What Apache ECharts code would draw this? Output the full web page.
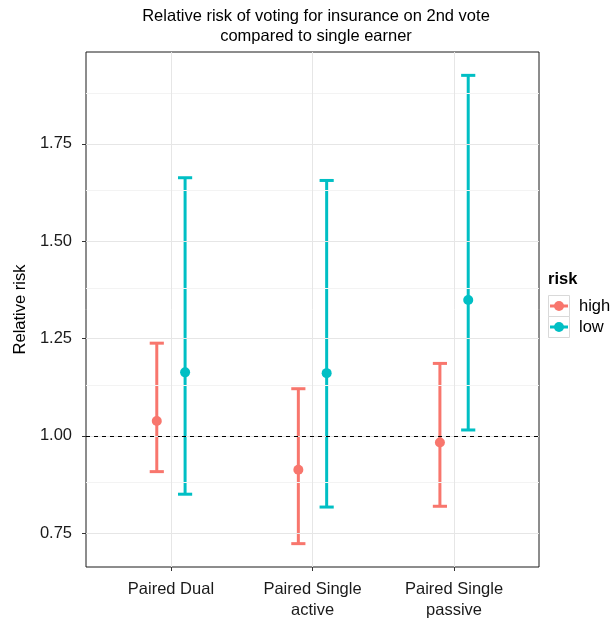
<!DOCTYPE html>
<html>
<head>
<meta charset="utf-8">
<script src="https://cdn.jsdelivr.net/npm/echarts@6/dist/echarts.min.js"></script>
<style>html,body{margin:0;padding:0;background:#fff}#c{width:610px;height:621px}</style>
</head>
<body>
<div id="c"></div>
<script>
// ---- data ----
const categories = ['Paired Dual', 'Paired Single\nactive', 'Paired Single\npassive'];
const riskLevels = ['high', 'low'];
const highPoint = [1.038, 0.913, 0.983];
const highLower = [0.908, 0.723, 0.819];
const highUpper = [1.238, 1.121, 1.186];
const lowPoint  = [1.163, 1.161, 1.349];
const lowLower  = [0.850, 0.817, 1.015];
const lowUpper  = [1.663, 1.656, 1.926];
const yTicks = [0.75, 1.00, 1.25, 1.50, 1.75];
const yMinorTicks = [0.875, 1.125, 1.375, 1.625, 1.875];
const refValue = 1.0;

const colors = {high: '#F8766D', low: '#00BFC4'};
const FONT = 'Liberation Sans, Arial, Helvetica, sans-serif';
const FS = 16.5;
const dodge = 0.1;

function build(lo, pt, hi, off) {
  return categories.map((c, i) => [i + 1 + off, lo[i], pt[i], hi[i]]);
}

function renderErr(color) {
  return function (params, api) {
    const x = api.value(0);
    const lo = api.coord([x, api.value(1)]);
    const pt = api.coord([x, api.value(2)]);
    const hi = api.coord([x, api.value(3)]);
    const half = api.size([0.05, 0])[0];
    const st = {stroke: color, lineWidth: 3};
    return {
      type: 'group',
      children: [
        {type: 'line', shape: {x1: lo[0], y1: lo[1], x2: hi[0], y2: hi[1]}, style: st},
        {type: 'line', shape: {x1: lo[0] - half, y1: lo[1], x2: lo[0] + half, y2: lo[1]}, style: st},
        {type: 'line', shape: {x1: hi[0] - half, y1: hi[1], x2: hi[0] + half, y2: hi[1]}, style: st},
        {type: 'circle', shape: {cx: pt[0], cy: pt[1], r: 5}, style: {fill: color}}
      ]
    };
  };
}

const chart = echarts.init(document.getElementById('c'), null, {renderer: 'canvas'});

const gridLines = [];
yMinorTicks.forEach(v => gridLines.push({yAxis: v, lineStyle: {color: '#f3f3f3', width: 1, type: 'solid'}}));
yTicks.forEach(v => gridLines.push({yAxis: v, lineStyle: {color: '#e6e6e6', width: 1, type: 'solid'}}));
categories.forEach((c, i) => gridLines.push({xAxis: i + 1, lineStyle: {color: '#e6e6e6', width: 1, type: 'solid'}}));

// legend graphic
const lgX = 548, lgY = 295;
const legendEls = [
  {type: 'text', x: lgX, y: 279.5, style: {text: 'risk', font: 'bold ' + FS + 'px ' + FONT, fill: '#000', verticalAlign: 'middle'}}
];
riskLevels.forEach((r, i) => {
  const y0 = lgY + i * 21;
  legendEls.push(
    {type: 'rect', shape: {x: lgX + 0.5, y: y0 + 0.5, width: 21, height: 21}, style: {fill: '#fff', stroke: '#d9d9d9', lineWidth: 1}},
    {type: 'line', shape: {x1: lgX + 2, y1: y0 + 11, x2: lgX + 20, y2: y0 + 11}, style: {stroke: colors[r], lineWidth: 3}},
    {type: 'circle', shape: {cx: lgX + 11, cy: y0 + 11, r: 5}, style: {fill: colors[r]}},
    {type: 'text', x: lgX + 31, y: y0 + 11.5, style: {text: r, font: FS + 'px ' + FONT, fill: '#000', verticalAlign: 'middle'}}
  );
});

chart.setOption({
  animation: false,
  backgroundColor: '#fff',
  title: {
    text: 'Relative risk of voting for insurance on 2nd vote\ncompared to single earner',
    left: 316, top: 7, padding: 0, textAlign: 'center',
    textStyle: {fontFamily: FONT, fontSize: FS, fontWeight: 'normal', color: '#000', lineHeight: 19.5}
  },
  grid: {left: 86, right: 71, top: 52, bottom: 53, show: true, borderColor: '#1a1a1a', borderWidth: 1, backgroundColor: 'transparent'},
  xAxis: {
    type: 'value', min: 0.4, max: 3.6,
    axisLine: {show: false},
    splitLine: {show: false},
    axisTick: {show: true, length: 4, customValues: [1, 2, 3], lineStyle: {color: '#333'}},
    axisLabel: {
      customValues: [1, 2, 3],
      formatter: v => categories[Math.round(v) - 1] || '',
      fontFamily: FONT, fontSize: FS, color: '#1a1a1a', margin: 12, lineHeight: 21
    }
  },
  yAxis: {
    type: 'value', min: 0.663, max: 1.986,
    name: 'Relative risk', nameLocation: 'middle', nameGap: 57, nameRotate: 90,
    nameTextStyle: {fontFamily: FONT, fontSize: FS, color: '#000'},
    axisLine: {show: false},
    splitLine: {show: false},
    axisTick: {show: true, length: 4, customValues: yTicks, lineStyle: {color: '#333'}},
    axisLabel: {
      customValues: yTicks,
      formatter: v => v.toFixed(2),
      fontFamily: FONT, fontSize: FS, color: '#1a1a1a', margin: 14
    }
  },
  graphic: legendEls,
  series: [
    {
      name: 'grid', type: 'line', data: [], z: 0, silent: true,
      markLine: {silent: true, symbol: 'none', label: {show: false}, animation: false, data: gridLines}
    },
    {
      name: 'ref', type: 'line', data: [], z: 1, silent: true,
      markLine: {silent: true, symbol: 'none', label: {show: false}, animation: false,
        data: [{yAxis: refValue, lineStyle: {color: '#000', width: 1, type: [4, 4]}}]}
    },
    {
      name: 'high', type: 'custom', z: 3,
      data: build(highLower, highPoint, highUpper, -dodge),
      encode: {x: 0, y: [1, 2, 3]},
      renderItem: renderErr(colors.high)
    },
    {
      name: 'low', type: 'custom', z: 3,
      data: build(lowLower, lowPoint, lowUpper, dodge),
      encode: {x: 0, y: [1, 2, 3]},
      renderItem: renderErr(colors.low)
    }
  ]
});
</script>
</body>
</html>
